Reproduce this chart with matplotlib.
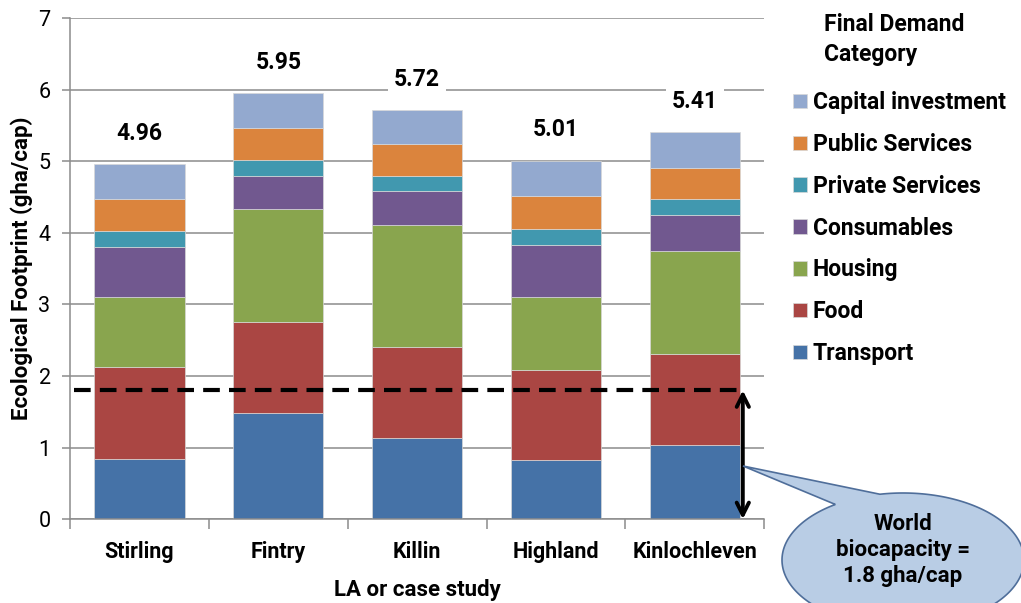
"""Stacked ecological footprint by final demand category, per LA / case study."""

import matplotlib
matplotlib.use("Agg")

import matplotlib.pyplot as plt
import numpy as np
from matplotlib.patches import Polygon

plt.rcParams["font.family"] = ["Roboto", "DejaVu Sans"]

places = ["Stirling", "Fintry", "Killin", "Highland", "Kinlochleven"]
categories = ["Transport", "Food", "Housing", "Consumables",
              "Private Services", "Public Services", "Capital investment"]
colors = ["#4572A7", "#AA4643", "#89A54E", "#71588F",
          "#4198AF", "#DB843D", "#93A9CF"]

# gha/cap per category, one array per category (same order as places)
transport = [0.84, 1.48, 1.13, 0.82, 1.04]
food = [1.28, 1.28, 1.28, 1.27, 1.27]
housing = [0.98, 1.58, 1.70, 1.02, 1.43]
consumables = [0.70, 0.46, 0.48, 0.72, 0.51]
private_services = [0.22, 0.22, 0.21, 0.23, 0.22]
public_services = [0.45, 0.45, 0.44, 0.45, 0.44]
capital_investment = [0.49, 0.48, 0.48, 0.50, 0.50]

world_biocapacity = 1.8

series = [transport, food, housing, consumables,
          private_services, public_services, capital_investment]

fig = plt.figure(figsize=(10.21, 6.03), dpi=100)
ax = fig.add_axes([0.0686, 0.139, 0.680, 0.831])

x = np.arange(len(places))
bottom = np.zeros(len(places))
handles = []
for name, vals, col in zip(categories, series, colors):
    vals = np.array(vals)
    h = ax.bar(x, vals, 0.65, bottom=bottom, color=col, label=name,
               edgecolor="#d8d8d8", linewidth=0.5, zorder=2)
    handles.append(h)
    bottom += vals

for xi, tot in zip(x, bottom):
    ax.annotate(f"{tot:.2f}", (xi, tot), xytext=(0, 22), textcoords="offset points",
                ha="center", va="center", fontsize=16.5, fontweight="bold",
                bbox=dict(boxstyle="square,pad=0.25", fc="white", ec="none"),
                zorder=3)

# biocapacity line plus double arrow down to zero
ax.plot([-0.47, 4.345], [world_biocapacity] * 2, color="black", lw=3,
        dashes=(4, 2.2), zorder=4)
ax.annotate("", xy=(4.345, 0.0), xytext=(4.345, world_biocapacity),
            arrowprops=dict(arrowstyle="<->", lw=2.8, color="black",
                            mutation_scale=22, shrinkA=0, shrinkB=0),
            zorder=5)

ax.set_xlim(-0.5, 4.5)
ax.set_ylim(0, 7)
ax.set_yticks(range(8))
ax.yaxis.grid(True, color="#8c8c8c", lw=1.1, zorder=0)
ax.set_axisbelow(True)
for s in ["top", "right"]:
    ax.spines[s].set_visible(False)
for s in ["left", "bottom"]:
    ax.spines[s].set_color("#8c8c8c")
    ax.spines[s].set_linewidth(1.1)

# category separators as major ticks, names as minor ticks
ax.set_xticks(np.arange(-0.5, 5.0, 1.0))
ax.set_xticklabels([])
ax.set_xticks(x, minor=True)
ax.set_xticklabels(places, minor=True, fontsize=15.5, fontweight="bold")
ax.tick_params(axis="x", which="major", length=7, color="#8c8c8c", width=1.1)
ax.tick_params(axis="x", which="minor", length=0, pad=16)
ax.tick_params(axis="y", length=6, color="#8c8c8c", width=1.1,
               labelsize=15.5, pad=8)

ax.set_ylabel("Ecological Footprint (gha/cap)", fontsize=16,
              fontweight="bold", labelpad=4)
ax.set_xlabel("LA or case study", fontsize=16, fontweight="bold", labelpad=11)

fig.text(0.807, 0.979, "Final Demand\nCategory", fontsize=16.5,
         fontweight="bold", ha="left", va="top", linespacing=1.4)
fig.legend(handles[::-1], categories[::-1], loc="upper left",
           bbox_to_anchor=(0.768, 0.864), frameon=False,
           prop=dict(size=16.5, weight="bold"), handlelength=0.6,
           handleheight=0.6, handletextpad=0.25, labelspacing=0.82,
           borderaxespad=0)

# speech-bubble callout, drawn in pixel coordinates on an overlay
ov = fig.add_axes([0, 0, 1, 1], facecolor="none")
ov.set_xlim(0, 1021)
ov.set_ylim(603, 0)
ov.axis("off")
cx, cy, rx, ry = 903, 560, 121, 67
t = np.linspace(np.deg2rad(-101), np.deg2rad(236), 300)
ex = cx + rx * np.cos(t)
ey = cy + ry * np.sin(t)
pts = np.column_stack([ex, ey])
pts = np.vstack([pts, [[743, 466]]])
ov.add_patch(Polygon(pts, closed=True, fc="#B9CDE5", ec="#4F6E9A", lw=1.2))
ov.text(cx, 550, "World\nbiocapacity =\n1.8 gha/cap", ha="center", va="center",
        fontsize=16, fontweight="bold", linespacing=1.25)

fig.savefig("out.png", dpi=100)
